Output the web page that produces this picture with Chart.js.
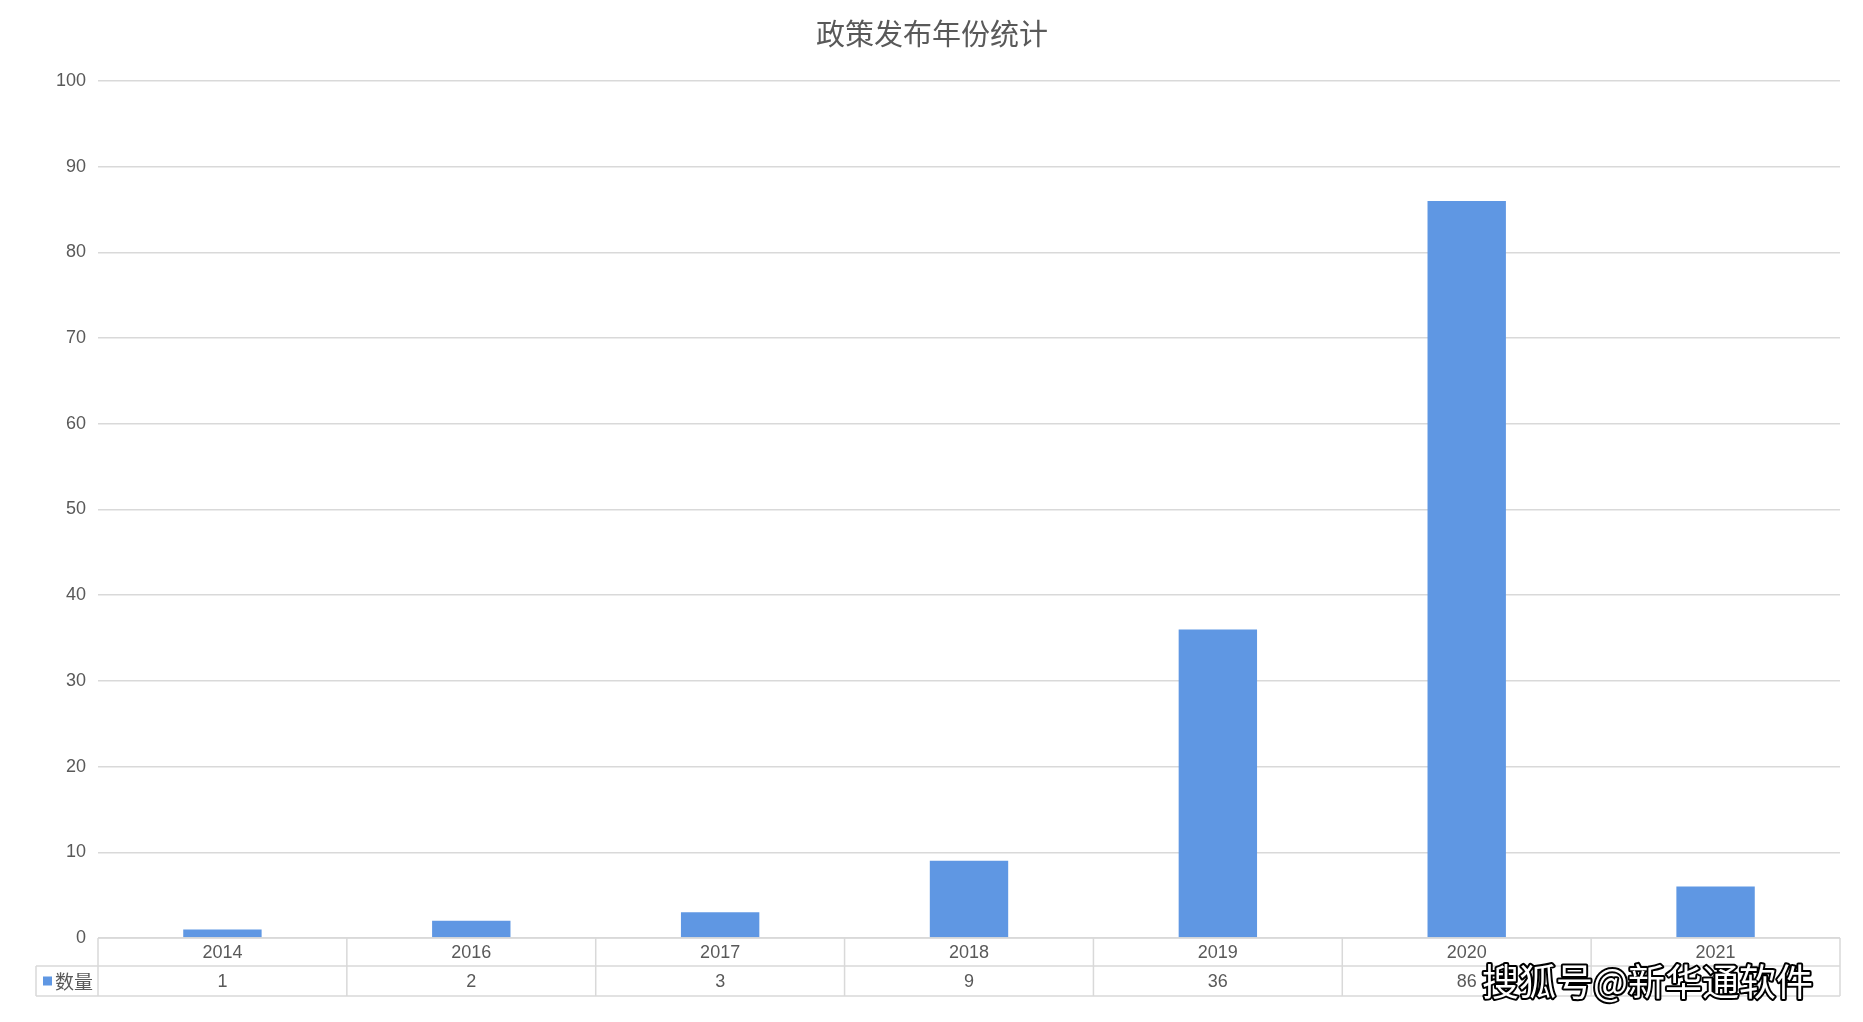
<!DOCTYPE html>
<html>
<head>
<meta charset="utf-8">
<script src="https://cdn.jsdelivr.net/npm/chart.js@4/dist/chart.umd.min.js"></script>
<style>
  html, body { margin: 0; padding: 0; background: #ffffff; }
  #wrap { width: 1863px; height: 1022px; position: relative; }
</style>
</head>
<body>
<div id="wrap"><canvas id="c" width="1863" height="1022"></canvas></div>
<script>
const chartTitle = '政策发布年份统计';
const seriesName = '数量';
const categories = ['2014', '2016', '2017', '2018', '2019', '2020', '2021'];
const counts = [1, 2, 3, 9, 36, 86, 6];
const yTicks = [0, 10, 20, 30, 40, 50, 60, 70, 80, 90, 100];
const watermark = '搜狐号@新华通软件';

const FONT = "'Liberation Sans', Arial, 'Noto Sans CJK SC', sans-serif";
const CJK = "'Noto Sans CJK SC', 'Liberation Sans', sans-serif";
const TEXT = '#595959';
const GRID = '#d9d9d9';
const BAR = '#5f97e3';

const tablePlugin = {
  id: 'tablePlugin',
  afterDraw(chart) {
    const ctx = chart.ctx;
    const area = chart.chartArea;
    const x = chart.scales.x;
    const n = categories.length;
    const colW = (area.right - area.left) / n;
    const top = area.bottom;
    const row1 = top + 28;
    const row2 = top + 58;
    const legendLeft = 36;

    ctx.save();
    ctx.strokeStyle = GRID;
    ctx.lineWidth = 1.5;
    ctx.beginPath();
    ctx.moveTo(area.left, top); ctx.lineTo(area.right, top);
    ctx.moveTo(legendLeft, row1); ctx.lineTo(area.right, row1);
    ctx.moveTo(legendLeft, row2); ctx.lineTo(area.right, row2);
    for (let i = 0; i <= n; i++) {
      const bx = area.left + i * colW;
      ctx.moveTo(bx, top); ctx.lineTo(bx, row2);
    }
    ctx.moveTo(legendLeft, row1); ctx.lineTo(legendLeft, row2);
    ctx.stroke();

    ctx.fillStyle = TEXT;
    ctx.font = '18px ' + FONT;
    ctx.textAlign = 'center';
    ctx.textBaseline = 'middle';
    categories.forEach((c, i) => {
      const cx = x.getPixelForValue(i);
      ctx.fillText(c, cx, (top + row1) / 2 + 1);
      ctx.fillText(String(counts[i]), cx, (row1 + row2) / 2 + 1);
    });

    // legend key
    ctx.fillStyle = BAR;
    ctx.fillRect(43, (row1 + row2) / 2 - 4.5, 9, 9);
    ctx.fillStyle = TEXT;
    ctx.textAlign = 'left';
    ctx.font = '19px ' + CJK;
    ctx.fillText(seriesName, 55, (row1 + row2) / 2 + 1);

    // title
    ctx.font = '29px ' + CJK;
    ctx.textAlign = 'center';
    ctx.fillStyle = TEXT;
    ctx.fillText(chartTitle, 932, 34);

    // watermark
    ctx.font = '37px ' + CJK;
    ctx.textAlign = 'left';
    ctx.lineJoin = 'round';
    ctx.lineWidth = 4;
    ctx.strokeStyle = '#000000';
    ctx.strokeText(watermark, 1482, 982);
    ctx.fillStyle = '#ffffff';
    ctx.fillText(watermark, 1482, 982);
    ctx.restore();
  }
};

new Chart(document.getElementById('c'), {
  type: 'bar',
  data: {
    labels: categories,
    datasets: [{
      label: seriesName,
      data: counts,
      backgroundColor: BAR,
      borderWidth: 0,
      categoryPercentage: 1.0,
      barPercentage: 0.315
    }]
  },
  options: {
    responsive: false,
    animation: false,
    devicePixelRatio: 1,
    layout: { padding: { left: 0, right: 23, top: 81, bottom: 0 } },
    plugins: {
      legend: { display: false },
      title: { display: false },
      tooltip: { enabled: false }
    },
    scales: {
      x: {
        grid: { display: false },
        border: { display: false },
        ticks: { display: false },
        afterFit(scale) { scale.height = 84; }
      },
      y: {
        min: 0,
        max: 100,
        afterBuildTicks(scale) { scale.ticks = yTicks.map(v => ({ value: v })); },
        ticks: {
          color: TEXT,
          font: { family: FONT, size: 18 },
          padding: 12
        },
        grid: { color: GRID, lineWidth: 1.5, drawTicks: false },
        border: { display: false },
        afterFit(scale) { scale.width = 98; }
      }
    }
  },
  plugins: [tablePlugin]
});
</script>
</body>
</html>
